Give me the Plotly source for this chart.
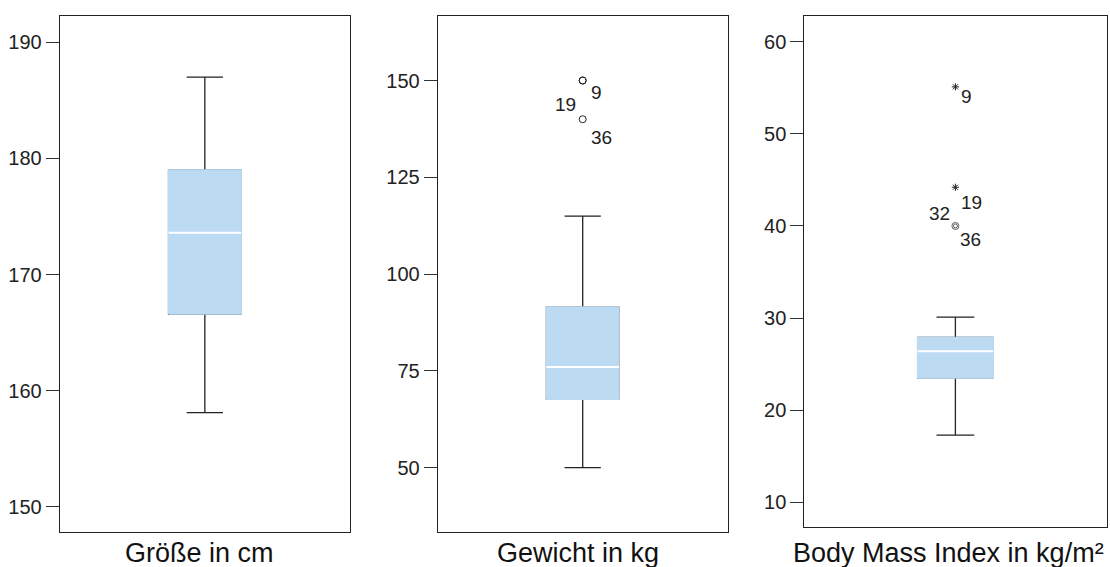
import plotly.graph_objects as go

# ---- data ----
titles = ["Größe in cm", "Gewicht in kg", "Body Mass Index in kg/m²"]
q1_vals = [166.6, 67.7, 23.5]
median_vals = [173.6, 76.0, 26.4]
q3_vals = [179.0, 91.5, 27.9]
lower_fences = [158.1, 50.0, 17.3]
upper_fences = [187.0, 115.0, 30.1]

weight_out_vals = [150.0, 150.0, 140.0]
weight_out_labels = ["9", "19", "36"]

bmi_extreme_vals = [55.1, 44.2]          # stars
bmi_extreme_labels = ["9", "19"]
bmi_out_vals = [40.0, 40.0]              # circles
bmi_out_labels = ["32", "36"]

tick_vals = [
    [150, 160, 170, 180, 190],
    [50, 75, 100, 125, 150],
    [10, 20, 30, 40, 50, 60],
]
y_ranges = [[147.82, 192.27], [33.4, 166.66], [7.29, 62.79]]

# ---- style ----
FILL = "#BCDAF2"
INK = "#222222"
FONT = "Liberation Sans, Arial, sans-serif"
BOX_W = 0.25

W, H = 1110, 567
def fx(px):
    return px / W

x_domains = [[fx(59.7), fx(350.0)], [fx(437.7), fx(727.7)], [fx(804.3), fx(1106.5)]]
y_domains = [[0.0, 1.0], [0.0, 1.0], [0.0091, 1.0]]
title_x = [fx(199), fx(578), fx(948)]

fig = go.Figure()

for i in range(3):
    ax = "" if i == 0 else str(i + 1)
    xa, ya = "x" + ax, "y" + ax
    # box with whiskers
    fig.add_trace(go.Box(
        x=[0], q1=[q1_vals[i]], median=[median_vals[i]], q3=[q3_vals[i]],
        lowerfence=[lower_fences[i]], upperfence=[upper_fences[i]],
        width=BOX_W, whiskerwidth=0.5, boxpoints=False,
        fillcolor=FILL, line=dict(color=INK, width=1.3),
        xaxis=xa, yaxis=ya, showlegend=False, hoverinfo="skip",
    ))
    # borderless body
    fig.add_trace(go.Scatter(
        x=[-BOX_W / 2, BOX_W / 2, BOX_W / 2, -BOX_W / 2, -BOX_W / 2],
        y=[q1_vals[i], q1_vals[i], q3_vals[i], q3_vals[i], q1_vals[i]],
        fill="toself", fillcolor=FILL, mode="lines",
        line=dict(color=FILL, width=1.6),
        xaxis=xa, yaxis=ya, showlegend=False, hoverinfo="skip",
    ))
    # white median
    fig.add_trace(go.Scatter(
        x=[-BOX_W / 2, BOX_W / 2], y=[median_vals[i], median_vals[i]],
        mode="lines", line=dict(color="white", width=2),
        xaxis=xa, yaxis=ya, showlegend=False, hoverinfo="skip",
    ))

    fig.layout["xaxis" + ax] = dict(
        domain=x_domains[i], range=[-0.5, 0.5], anchor=ya,
        showticklabels=False, ticks="", showgrid=False, zeroline=False,
        showline=True, mirror=True, linecolor=INK, linewidth=1,
    )
    fig.layout["yaxis" + ax] = dict(
        domain=y_domains[i], range=y_ranges[i], anchor=xa,
        tickvals=tick_vals[i], ticks="outside", ticklen=13,
        tickcolor="#333333", tickwidth=1, showgrid=False, zeroline=False,
        showline=True, mirror=True, linecolor=INK, linewidth=1,
        tickfont=dict(family=FONT, size=20, color=INK),
    )
    fig.add_annotation(
        text=titles[i], xref="paper", yref="paper",
        x=title_x[i], y=0, yshift=-21, xanchor="center", yanchor="middle",
        showarrow=False, font=dict(family=FONT, size=27, color="#111111"),
    )

# weight outliers (circles)
fig.add_trace(go.Scatter(
    x=[0] * len(weight_out_vals), y=weight_out_vals, mode="markers",
    marker=dict(symbol="circle-open", size=7, color=INK, line=dict(width=1)),
    xaxis="x2", yaxis="y2", showlegend=False, hoverinfo="skip",
))
# BMI extremes (stars) and outliers (circles)
fig.add_trace(go.Scatter(
    x=[0] * len(bmi_extreme_vals), y=bmi_extreme_vals, mode="markers",
    marker=dict(symbol="asterisk-open", size=6, color=INK, line=dict(width=1, color=INK)),
    xaxis="x3", yaxis="y3", showlegend=False, hoverinfo="skip",
))
fig.add_trace(go.Scatter(
    x=[0, 0], y=bmi_out_vals, mode="markers",
    marker=dict(symbol="circle-open", size=[7, 4], color=INK, line=dict(width=1)),
    xaxis="x3", yaxis="y3", showlegend=False, hoverinfo="skip",
))

label_font = dict(family=FONT, size=19, color=INK)
# weight labels: (xanchor, xshift, yshift)
w_offsets = [("left", 6, -12), ("right", -5, -24), ("left", 6, -18)]
for v, lab, (xa_, xs, ys) in zip(weight_out_vals, weight_out_labels, w_offsets):
    fig.add_annotation(text=lab, xref="x2", yref="y2", x=0, y=v,
                       xanchor=xa_, yanchor="middle", xshift=xs, yshift=ys,
                       showarrow=False, font=label_font)
b_ext_offsets = [("left", 4, -10), ("left", 4, -15)]
for v, lab, (xa_, xs, ys) in zip(bmi_extreme_vals, bmi_extreme_labels, b_ext_offsets):
    fig.add_annotation(text=lab, xref="x3", yref="y3", x=0, y=v,
                       xanchor=xa_, yanchor="middle", xshift=xs, yshift=ys,
                       showarrow=False, font=label_font)
b_out_offsets = [("right", -3, 12), ("left", 3, -14)]
for v, lab, (xa_, xs, ys) in zip(bmi_out_vals, bmi_out_labels, b_out_offsets):
    fig.add_annotation(text=lab, xref="x3", yref="y3", x=0, y=v,
                       xanchor=xa_, yanchor="middle", xshift=xs, yshift=ys,
                       showarrow=False, font=label_font)

fig.update_layout(
    width=W, height=H,
    margin=dict(l=0, r=0, t=16, b=35),
    paper_bgcolor="white", plot_bgcolor="white",
    showlegend=False,
    font=dict(family=FONT, color=INK),
)

fig.write_html(
    "out.html",
    config={"displayModeBar": False},
    post_script=(
        "document.body.style.margin='0';"
        "document.body.style.overflow='hidden';"
        "document.documentElement.style.overflow='hidden';"
    ),
)
